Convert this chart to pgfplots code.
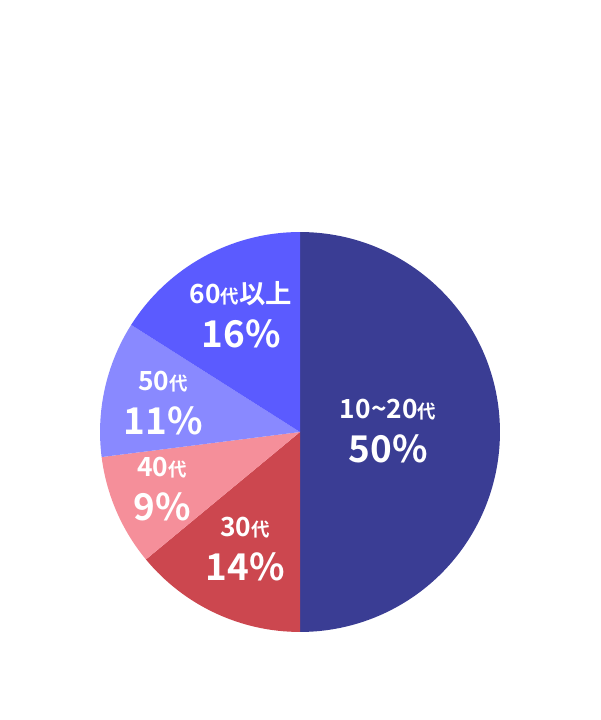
\documentclass[border=0pt]{standalone}
\usepackage{pgfplots}
\pgfplotsset{compat=1.18}
\usepackage{fontspec}
\setmainfont{Noto Sans CJK JP}[BoldFont={* Bold}]
\definecolor{cA}{HTML}{3A3D94}
\definecolor{cB}{HTML}{CC474F}
\definecolor{cC}{HTML}{F58F9A}
\definecolor{cD}{HTML}{8989FF}
\definecolor{cE}{HTML}{5B5BFF}
\newcommand{\lab}[2]{\fontsize{15}{16}\selectfont #1\\[7pt]\fontsize{21}{22}\selectfont #2}
\newcommand{\dai}{{\fontsize{10.5}{11}\selectfont 代}}
\begin{document}
\begin{tikzpicture}
\begin{axis}[x=0.02cm, y=0.02cm, xmin=0, xmax=600, ymin=0, ymax=720,
  hide axis, clip=false]
\path (axis cs:0,0) rectangle (axis cs:600,720);
% shares in percent, clockwise from the top
\pgfmathsetmacro{\r}{4}
\def\start{90}
\foreach \p/\c in {50/cA, 14/cB, 9/cC, 11/cD, 16/cE}{
  \pgfmathsetmacro{\e}{\start-3.6*\p}
  \edef\tmp{\noexpand\fill[\c] (axis cs:300,288) -- ++(\start:\r cm)
    arc[start angle=\start, end angle=\e, radius=\r cm] -- cycle;}
  \tmp
  \global\let\start\e
}
\tikzset{lb/.style={white, align=center, font=\bfseries}}
\node[lb] at (axis cs:388,289) {\lab{10\textasciitilde 20\dai}{50\%}};
\node[lb] at (axis cs:245,171) {\lab{30\dai}{14\%}};
\node[lb] at (axis cs:162,231) {\lab{40\dai}{9\%}};
\node[lb] at (axis cs:163,317) {\lab{50\dai}{11\%}};
\node[lb] at (axis cs:241,405) {\lab{60\dai 以上}{16\%}};
\end{axis}
\end{tikzpicture}
\end{document}
